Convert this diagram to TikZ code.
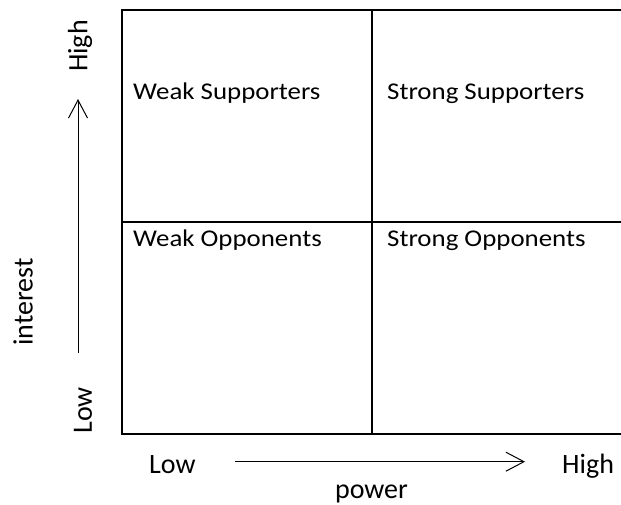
\documentclass[tikz,border=0pt]{standalone}
\usepackage{fontspec}
\setmainfont{Carlito}
\newfontfamily\cellfont[FakeStretch=1.12]{Carlito}
\usetikzlibrary{arrows.meta}
\begin{document}
\begin{tikzpicture}[x=1pt,y=-1pt,
  grid/.style={line width=2pt},
  axis/.style={line width=1pt,-{Straight Barb[length=18pt,width=19pt,line width=1pt]}},
  cell/.style={font=\cellfont\fontsize{24}{28}\selectfont,anchor=base west,inner sep=0pt},
  lbl/.style={font=\fontsize{28}{32}\selectfont,inner sep=0pt}]
\useasboundingbox (0,0) rectangle (621,505);
% quadrant grid (open to the right)
\coordinate (tl) at (122,10);
\coordinate (bl) at (122,433.5);
\coordinate (tr) at (622,10);
\coordinate (br) at (622,433.5);
\coordinate (ml) at (122,221.7);
\coordinate (mr) at (622,221.7);
\coordinate (mt) at (371.7,10);
\coordinate (mb) at (371.7,433.5);
\draw[grid] (tr) -- (tl) -- (bl) -- (br);
\draw[grid] (ml) -- (mr);
\draw[grid] (mt) -- (mb);
% quadrant labels
\node[cell] (ws) at (133,100) {Weak Supporters};
\node[cell] (ss) at (387,100) {Strong Supporters};
\node[cell] (wo) at (133,246) {Weak Opponents};
\node[cell] (so) at (387,246) {Strong Opponents};
% interest axis
\coordinate (ia) at (78,353);
\coordinate (ib) at (78,99);
\draw[axis] (ia) -- (ib);
\node[lbl,rotate=90] (ihigh) at (80,46) {High};
\node[lbl,rotate=90] (ilow) at (83,410.5) {Low};
\node[lbl,rotate=90] (interest) at (23,302) {interest};
% power axis
\coordinate (pa) at (235,461.7);
\coordinate (pb) at (525,461.7);
\draw[axis] (pa) -- (pb);
\node[lbl,anchor=base west] (plow) at (149,473.5) {Low};
\node[lbl,anchor=base west] (phigh) at (562,473.5) {High};
\node[lbl,anchor=base] (power) at (371.5,498.5) {power};
\end{tikzpicture}
\end{document}
